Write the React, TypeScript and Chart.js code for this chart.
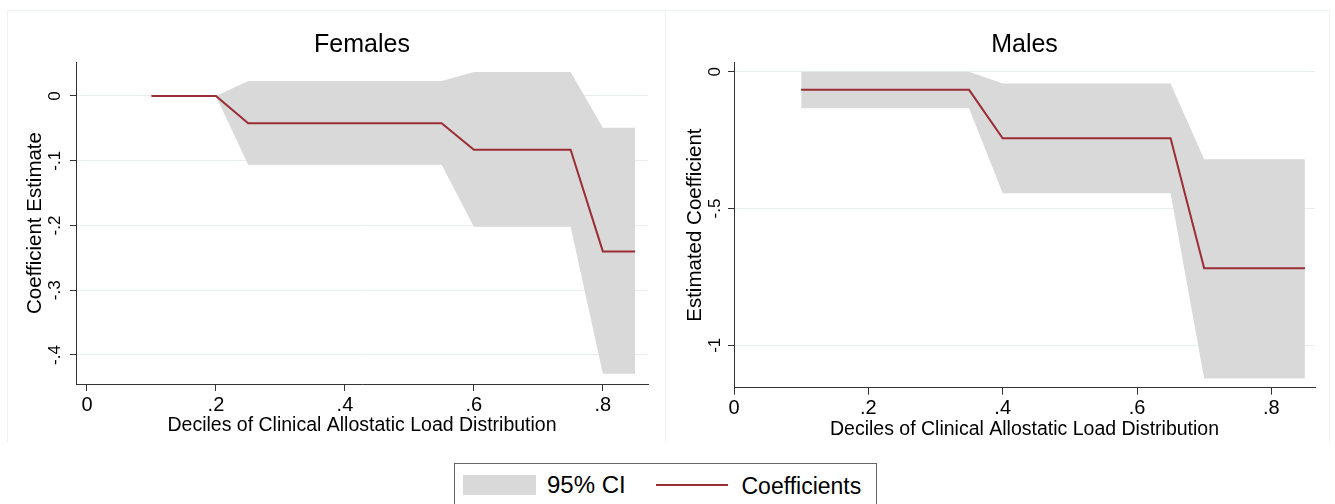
import React, { useEffect, useRef } from "react";
import { Chart, registerables } from "chart.js";

Chart.register(...registerables);

// ---- data ----
const deciles = [0.1, 0.15, 0.2, 0.25, 0.3, 0.35, 0.4, 0.45, 0.5, 0.55, 0.6, 0.65, 0.7, 0.75, 0.8, 0.85];

const femaleCoef = [0, 0, 0, -0.042, -0.042, -0.042, -0.042, -0.042, -0.042, -0.042, -0.083, -0.083, -0.083, -0.083, -0.24, -0.24];
const femaleUpper = [0, 0, 0, 0.023, 0.023, 0.023, 0.023, 0.023, 0.023, 0.023, 0.037, 0.037, 0.037, 0.037, -0.049, -0.049];
const femaleLower = [0, 0, 0, -0.106, -0.106, -0.106, -0.106, -0.106, -0.106, -0.106, -0.202, -0.202, -0.202, -0.202, -0.429, -0.429];

const maleCoef = [-0.066, -0.066, -0.066, -0.066, -0.066, -0.066, -0.243, -0.243, -0.243, -0.243, -0.243, -0.243, -0.718, -0.718, -0.718, -0.718];
const maleUpper = [0, 0, 0, 0, 0, 0, -0.043, -0.043, -0.043, -0.043, -0.043, -0.043, -0.32, -0.32, -0.32, -0.32];
const maleLower = [-0.133, -0.133, -0.133, -0.133, -0.133, -0.133, -0.444, -0.444, -0.444, -0.444, -0.444, -0.444, -1.121, -1.121, -1.121, -1.121];

const xTicks = [0, 0.2, 0.4, 0.6, 0.8];
const femaleYTicks = [0, -0.1, -0.2, -0.3, -0.4];
const maleYTicks = [0, -0.5, -1];

const xTitle = "Deciles of Clinical Allostatic Load Distribution";
const legendLabels = ["95% CI", "Coefficients"];

// ---- style ----
const FONT = "'Liberation Sans', Arial, Helvetica, sans-serif";
const RED = "#9b2d35";
const GRAY = "#d9d9d9";
const AX = "#333333";
const GRID = "#e6eeee";
const PANEL_BORDER = "#edf2f2";

Chart.defaults.font.family = FONT;

const fmt = (v: number) => {
  const n = +Number(v).toFixed(3);
  if (n === 0) return "0";
  return String(n).replace("0.", ".");
};

const pts = (ys: number[]) => deciles.map((x, i) => ({ x, y: ys[i] }));

type PanelProps = {
  title: string;
  yTitle: string;
  coef: number[];
  upper: number[];
  lower: number[];
  yTicks: number[];
  xMin: number;
  xMax: number;
  yMin: number;
  yMax: number;
  width: number;
  height: number;
  xScaleH: number;
  yScaleW: number;
  yTickPad: number;
  yTitlePad: number;
  xTitlePad: number;
  titlePadTop: number;
  titlePadBottom: number;
  padRight: number;
};

function Panel(p: PanelProps) {
  const ref = useRef<HTMLCanvasElement | null>(null);
  useEffect(() => {
    if (!ref.current) return;
    const chart = new Chart(ref.current, {
      type: "line",
      data: {
        datasets: [
          {
            label: legendLabels[1],
            data: pts(p.coef),
            borderColor: RED,
            borderWidth: 2,
            pointRadius: 0,
            fill: false,
            tension: 0,
          },
          {
            label: "upper",
            data: pts(p.upper),
            borderColor: "rgba(0,0,0,0)",
            borderWidth: 0,
            pointRadius: 0,
            fill: false,
            tension: 0,
          },
          {
            label: legendLabels[0],
            data: pts(p.lower),
            borderColor: "rgba(0,0,0,0)",
            backgroundColor: GRAY,
            borderWidth: 0,
            pointRadius: 0,
            fill: "-1",
            tension: 0,
          },
        ],
      },
      options: {
        responsive: false,
        maintainAspectRatio: false,
        animation: false,
        events: [],
        layout: { padding: { left: 0, right: p.padRight, top: 0, bottom: 0 } },
        plugins: {
          legend: { display: false },
          tooltip: { enabled: false },
          title: {
            display: true,
            fullSize: false,
            text: p.title,
            color: "#000",
            font: { family: FONT, size: 25, weight: "normal", lineHeight: 1 },
            padding: { top: p.titlePadTop, bottom: p.titlePadBottom },
          },
        },
        scales: {
          x: {
            type: "linear",
            min: p.xMin,
            max: p.xMax,
            afterBuildTicks: (s: any) => {
              s.ticks = xTicks.map((v) => ({ value: v }));
            },
            afterFit: (s: any) => {
              s.height = p.xScaleH;
            },
            grid: { drawOnChartArea: false, drawTicks: true, tickLength: 7, tickColor: AX, tickWidth: 1 },
            border: { display: true, color: AX, width: 1 },
            ticks: {
              color: "#000",
              font: { family: FONT, size: 20 },
              padding: 2,
              maxRotation: 0,
              minRotation: 0,
              autoSkip: false,
              callback: (v: any) => fmt(v),
            },
            title: {
              display: true,
              text: xTitle,
              color: "#000",
              font: { family: FONT, size: 19.5, lineHeight: 1 },
              padding: { top: 0, bottom: p.xTitlePad },
            },
          },
          y: {
            type: "linear",
            min: p.yMin,
            max: p.yMax,
            afterBuildTicks: (s: any) => {
              s.ticks = p.yTicks.map((v) => ({ value: v }));
            },
            afterFit: (s: any) => {
              s.width = p.yScaleW;
            },
            grid: { color: GRID, lineWidth: 1, drawTicks: true, tickLength: 6, tickColor: AX, tickWidth: 1 },
            border: { display: true, color: AX, width: 1 },
            ticks: {
              color: "#000",
              font: { family: FONT, size: 17 },
              minRotation: 90,
              maxRotation: 90,
              crossAlign: "center",
              padding: p.yTickPad,
              autoSkip: false,
              callback: (v: any) => fmt(v),
            },
            title: {
              display: true,
              text: p.yTitle,
              color: "#000",
              font: { family: FONT, size: 20.5, lineHeight: 1 },
              padding: { top: p.yTitlePad, bottom: 0 },
            },
          },
        },
      } as any,
    });
    return () => chart.destroy();
  }, []);
  return <canvas ref={ref} width={p.width} height={p.height} style={{ width: p.width, height: p.height, display: "block" }} />;
}

export default function App() {
  return (
    <div
      style={{
        position: "fixed",
        left: 0,
        top: 0,
        width: 1335,
        height: 504,
        background: "#fff",
        overflow: "hidden",
        fontFamily: FONT,
        color: "#000",
      }}
    >
      {/* panel frames */}
      <div
        style={{
          position: "absolute",
          left: 7,
          top: 10,
          width: 658,
          height: 433,
          boxSizing: "border-box",
          borderTop: `1px solid ${PANEL_BORDER}`,
          borderLeft: `1px solid ${PANEL_BORDER}`,
        }}
      />
      <div
        style={{
          position: "absolute",
          left: 665,
          top: 10,
          width: 665,
          height: 433,
          boxSizing: "border-box",
          borderTop: `1px solid ${PANEL_BORDER}`,
          borderLeft: `1px solid ${PANEL_BORDER}`,
          borderRight: `1px solid ${PANEL_BORDER}`,
        }}
      />
      <div style={{ position: "absolute", left: 7, top: 10 }}>
        <Panel
          title="Females"
          yTitle="Coefficient Estimate"
          coef={femaleCoef}
          upper={femaleUpper}
          lower={femaleLower}
          yTicks={femaleYTicks}
          xMin={-0.017}
          xMax={0.87}
          yMin={-0.4448}
          yMax={0.0525}
          width={658}
          height={433}
          xScaleH={59}
          yScaleW={69}
          yTickPad={4.8}
          yTitlePad={18.5}
          xTitlePad={7.5}
          titlePadTop={22.5}
          titlePadBottom={4.5}
          padRight={17}
        />
      </div>
      <div style={{ position: "absolute", left: 665, top: 10 }}>
        <Panel
          title="Males"
          yTitle="Estimated Coefficient"
          coef={maleCoef}
          upper={maleUpper}
          lower={maleLower}
          yTicks={maleYTicks}
          xMin={0}
          xMax={0.865}
          yMin={-1.155}
          yMax={0.034}
          width={664}
          height={433}
          xScaleH={55.3}
          yScaleW={69}
          yTickPad={2.3}
          yTitlePad={20.5}
          xTitlePad={3.25}
          titlePadTop={22.5}
          titlePadBottom={5}
          padRight={14}
        />
      </div>

      {/* legend */}
      <div
        style={{
          position: "absolute",
          left: 454,
          top: 463,
          width: 423,
          height: 60,
          boxSizing: "border-box",
          border: "1px solid #666",
        }}
      />
      <div style={{ position: "absolute", left: 463, top: 475, width: 73, height: 20, background: GRAY }} />
      <div
        style={{
          position: "absolute",
          left: 547,
          top: 473,
          fontSize: 24,
          lineHeight: "24px",
          whiteSpace: "nowrap",
        }}
      >
        {legendLabels[0]}
      </div>
      <div style={{ position: "absolute", left: 656, top: 484, width: 72, height: 2, background: RED }} />
      <div
        style={{
          position: "absolute",
          left: 741.5,
          top: 474.5,
          fontSize: 23,
          lineHeight: "23px",
          whiteSpace: "nowrap",
        }}
      >
        {legendLabels[1]}
      </div>
    </div>
  );
}
